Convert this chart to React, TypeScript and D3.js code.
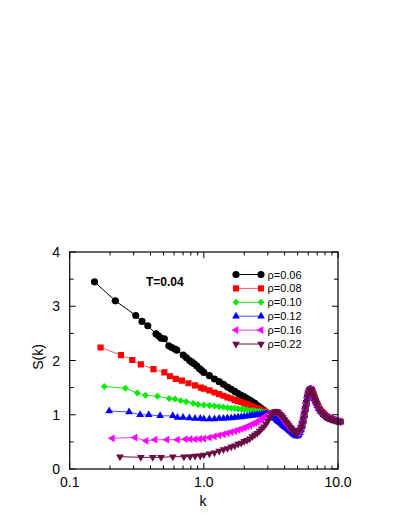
import React from "react";
import * as d3 from "d3";

// ---- data ----
const SERIES_LABELS = ["ρ=0.06", "ρ=0.08", "ρ=0.10", "ρ=0.12", "ρ=0.16", "ρ=0.22"];
const TEMP_LABEL = "T=0.04";
const X_TICKS = [0.1, 1, 10];
const X_TICK_LABELS = ["0.1", "1.0", "10.0"];
const Y_TICKS = [0, 1, 2, 3, 4];

// low-k sparse points (per series)
const K_LOW_006 = [0.153, 0.219, 0.311, 0.346, 0.382, 0.44, 0.461, 0.48, 0.508, 0.548, 0.577, 0.608, 0.629, 0.702, 0.742, 0.782, 0.815, 0.847, 0.885, 0.927, 0.96];
const S_LOW_006 = [3.45, 3.1, 2.83, 2.72, 2.64, 2.49, 2.45, 2.41, 2.4, 2.27, 2.24, 2.21, 2.19, 2.1, 2.05, 2.0, 1.97, 1.94, 1.9, 1.85, 1.82];
const K_LOW_008 = [0.17, 0.241, 0.293, 0.339, 0.421, 0.508, 0.56, 0.618, 0.686, 0.768, 0.86, 0.952];
const S_LOW_008 = [2.24, 2.1, 2.01, 1.93, 1.84, 1.78, 1.71, 1.66, 1.63, 1.58, 1.54, 1.5];
const K_LOW_010 = [0.181, 0.26, 0.319, 0.367, 0.451, 0.552, 0.61, 0.672, 0.738, 0.831, 0.906];
const S_LOW_010 = [1.52, 1.49, 1.4, 1.36, 1.34, 1.3, 1.29, 1.26, 1.24, 1.21, 1.19];
const K_LOW_012 = [0.197, 0.277, 0.335, 0.388, 0.472, 0.587, 0.636, 0.7, 0.78, 0.86, 0.94];
const S_LOW_012 = [1.07, 1.05, 1.0, 1.0, 0.98, 0.98, 0.95, 0.95, 0.94, 0.93, 0.93];
const K_LOW_016 = [0.208, 0.307, 0.371, 0.433, 0.53, 0.636, 0.73, 0.79, 0.86, 0.93];
const S_LOW_016 = [0.566, 0.58, 0.52, 0.54, 0.54, 0.54, 0.55, 0.55, 0.55, 0.555];
const K_LOW_022 = [0.237, 0.339, 0.416, 0.48, 0.587, 0.71, 0.79, 0.86, 0.94];
const S_LOW_022 = [0.227, 0.215, 0.215, 0.215, 0.227, 0.227, 0.23, 0.24, 0.245];

// dense k points (k >= 1)
const K_HI = [
  1.0, 1.1, 1.2, 1.3, 1.4, 1.5, 1.6, 1.7, 1.8, 1.9,
  2.0, 2.1, 2.2, 2.3, 2.4, 2.5, 2.6, 2.7, 2.8, 2.9,
  3.0, 3.1, 3.2, 3.3, 3.4, 3.5, 3.6, 3.7, 3.8, 3.9,
  4.0, 4.1, 4.2, 4.3, 4.4, 4.5, 4.6, 4.7, 4.8, 4.9,
  5.0, 5.1, 5.2, 5.3, 5.4, 5.5, 5.6, 5.7, 5.8, 5.9,
  6.0, 6.1, 6.2, 6.3, 6.4, 6.5, 6.6, 6.7, 6.8, 6.9, 7.0,
  7.2, 7.4, 7.6, 7.8, 8.0, 8.2, 8.4, 8.6, 8.8, 9.0, 9.35, 9.7, 10.05, 10.4,
];
const S_HI_006 = [
  1.78, 1.72, 1.66, 1.61, 1.56, 1.51, 1.47, 1.43, 1.39, 1.36, 1.33, 1.3, 1.27, 1.24, 1.21, 1.17, 1.14, 1.11, 1.08, 1.05,
  1.02, 1.0, 0.98, 0.96, 0.94, 0.92, 0.89, 0.87, 0.85, 0.82, 0.8, 0.78, 0.76, 0.74, 0.72, 0.7, 0.68, 0.66, 0.64, 0.63,
  0.63, 0.65, 0.69, 0.74, 0.81, 0.89, 0.99, 1.1, 1.21, 1.31, 1.39, 1.44, 1.47, 1.47, 1.45, 1.4, 1.35, 1.3, 1.26, 1.22, 1.19,
  1.13, 1.08, 1.05, 1.02, 0.99, 0.97, 0.95, 0.94, 0.93, 0.92, 0.905, 0.89, 0.88, 0.875,
];
const S_HI_008 = [
  1.48, 1.45, 1.41, 1.38, 1.35, 1.32, 1.3, 1.27, 1.25, 1.23, 1.21, 1.19, 1.17, 1.15, 1.13, 1.12, 1.1, 1.08, 1.07, 1.05,
  1.03, 1.0, 0.98, 0.96, 0.94, 0.91, 0.89, 0.87, 0.84, 0.82, 0.8, 0.78, 0.75, 0.73, 0.71, 0.69, 0.67, 0.65, 0.64, 0.63,
  0.63, 0.65, 0.69, 0.74, 0.81, 0.89, 0.99, 1.1, 1.21, 1.31, 1.39, 1.44, 1.47, 1.47, 1.45, 1.4, 1.35, 1.3, 1.26, 1.22, 1.19,
  1.13, 1.08, 1.05, 1.02, 0.99, 0.97, 0.95, 0.94, 0.93, 0.92, 0.905, 0.89, 0.88, 0.875,
];
const S_HI_010 = [
  1.18, 1.17, 1.16, 1.15, 1.14, 1.13, 1.12, 1.12, 1.11, 1.1, 1.1, 1.09, 1.08, 1.08, 1.07, 1.06, 1.06, 1.05, 1.04, 1.04,
  1.03, 1.0, 0.98, 0.96, 0.94, 0.91, 0.89, 0.86, 0.84, 0.82, 0.79, 0.77, 0.75, 0.73, 0.71, 0.69, 0.67, 0.65, 0.64, 0.63,
  0.63, 0.65, 0.68, 0.74, 0.8, 0.89, 0.99, 1.1, 1.21, 1.31, 1.39, 1.45, 1.47, 1.47, 1.45, 1.4, 1.35, 1.3, 1.26, 1.22, 1.18,
  1.12, 1.08, 1.04, 1.01, 0.99, 0.97, 0.95, 0.94, 0.93, 0.92, 0.9, 0.89, 0.88, 0.87,
];
const S_HI_012 = [
  0.92, 0.92, 0.92, 0.93, 0.93, 0.94, 0.94, 0.95, 0.96, 0.96, 0.97, 0.97, 0.98, 0.99, 0.99, 1.0, 1.0, 1.01, 1.01, 1.02,
  1.01, 0.99, 0.97, 0.95, 0.93, 0.9, 0.88, 0.85, 0.83, 0.8, 0.78, 0.76, 0.74, 0.72, 0.7, 0.68, 0.66, 0.64, 0.62, 0.61,
  0.61, 0.63, 0.67, 0.72, 0.79, 0.88, 0.98, 1.09, 1.2, 1.3, 1.38, 1.44, 1.47, 1.47, 1.44, 1.39, 1.34, 1.29, 1.25, 1.21, 1.17,
  1.11, 1.07, 1.03, 1.0, 0.98, 0.96, 0.94, 0.93, 0.92, 0.91, 0.895, 0.885, 0.875, 0.865,
];
const S_HI_016 = [
  0.56, 0.58, 0.6, 0.62, 0.64, 0.66, 0.68, 0.7, 0.72, 0.74, 0.76, 0.78, 0.8, 0.83, 0.85, 0.87, 0.9, 0.92, 0.95, 0.98,
  1.0, 1.02, 1.04, 1.05, 1.05, 1.04, 1.02, 0.99, 0.96, 0.93, 0.89, 0.85, 0.82, 0.79, 0.76, 0.73, 0.71, 0.69, 0.67, 0.66,
  0.66, 0.68, 0.71, 0.76, 0.83, 0.91, 1.01, 1.11, 1.22, 1.32, 1.4, 1.45, 1.47, 1.47, 1.44, 1.39, 1.34, 1.29, 1.25, 1.21, 1.17,
  1.11, 1.06, 1.03, 1.0, 0.98, 0.96, 0.94, 0.93, 0.92, 0.91, 0.9, 0.89, 0.88, 0.87,
];
const S_HI_022 = [
  0.26, 0.28, 0.3, 0.33, 0.36, 0.38, 0.41, 0.43, 0.46, 0.48, 0.51, 0.53, 0.56, 0.6, 0.63, 0.66, 0.7, 0.74, 0.78, 0.83,
  0.88, 0.95, 1.01, 1.04, 1.06, 1.06, 1.04, 1.01, 0.98, 0.95, 0.91, 0.87, 0.84, 0.8, 0.77, 0.74, 0.72, 0.7, 0.68, 0.67,
  0.67, 0.69, 0.72, 0.77, 0.84, 0.92, 1.02, 1.12, 1.23, 1.33, 1.4, 1.45, 1.47, 1.47, 1.44, 1.39, 1.34, 1.29, 1.25, 1.21, 1.17,
  1.11, 1.06, 1.03, 1.0, 0.98, 0.96, 0.94, 0.93, 0.92, 0.91, 0.9, 0.89, 0.88, 0.87,
];

const K_LOW = [K_LOW_006, K_LOW_008, K_LOW_010, K_LOW_012, K_LOW_016, K_LOW_022];
const S_LOW = [S_LOW_006, S_LOW_008, S_LOW_010, S_LOW_012, S_LOW_016, S_LOW_022];
const S_HI = [S_HI_006, S_HI_008, S_HI_010, S_HI_012, S_HI_016, S_HI_022];

// ---- styles ----
const MARKER_COLORS = ["#000000", "#ff0000", "#00ee00", "#0000ff", "#ff00ff", "#6a0d45"];
const LINE_COLORS = ["#000000", "#ff5a5a", "#22dd22", "#4a4aff", "#ff33ff", "#6a0d45"];
const SHAPES = ["circle", "square", "diamond", "triUp", "triLeft", "triDown"];

const FONT = "'Liberation Sans', Arial, Helvetica, sans-serif";

const M = { left: 69.7, right: 338, top: 252, bottom: 469 };

function Marker({ shape, x, y, color }: { shape: string; x: number; y: number; color: string }) {
  let path = "";
  let rot = 0;
  if (shape === "circle") path = d3.symbol(d3.symbolCircle, 40)() as string;
  else if (shape === "square") path = d3.symbol(d3.symbolSquare, 38)() as string;
  else if (shape === "diamond") {
    path = d3.symbol(d3.symbolSquare, 24)() as string;
    rot = 45;
  } else {
    path = d3.symbol(d3.symbolTriangle, 26)() as string;
    rot = shape === "triUp" ? 0 : shape === "triLeft" ? -90 : 180;
  }
  return <path d={path} transform={`translate(${x},${y}) rotate(${rot})`} fill={color} />;
}

export default function App() {
  const x = d3.scaleLog().domain([0.1, 10]).range([M.left, M.right]);
  const y = d3.scaleLinear().domain([0, 4]).range([M.bottom, M.top]);

  const series = SERIES_LABELS.map((label, i) => {
    const pts: [number, number][] = [];
    K_LOW[i].forEach((k, j) => pts.push([k, S_LOW[i][j]]));
    K_HI.forEach((k, j) => pts.push([k, S_HI[i][j]]));
    return { label, pts, i };
  });

  const line = d3
    .line<[number, number]>()
    .x((d) => x(d[0]))
    .y((d) => y(d[1]));

  const minorX: number[] = [];
  [0.1, 1].forEach((dec) => {
    for (let m = 2; m <= 9; m++) minorX.push(dec * m);
  });
  const minorY = [0.5, 1.5, 2.5, 3.5];

  const legendX0 = 236;
  const legendX1 = 261;
  const legendY0 = 274.5;
  const legendDy = 13.9;

  return (
    <svg
      width={408}
      height={528}
      style={{ position: "absolute", left: 0, top: 0, background: "#fff" }}
      fontFamily={FONT}
    >
      <defs>
        <clipPath id="plotclip">
          <rect x={M.left} y={M.top - 10} width={M.right - M.left + 6} height={M.bottom - M.top + 10} />
        </clipPath>
      </defs>

      {/* data */}
      <g clipPath="url(#plotclip)">
        {series.map((s) => (
          <g key={s.label}>
            <path d={line(s.pts) as string} fill="none" stroke={LINE_COLORS[s.i]} strokeWidth={1} />
            {s.pts.map((p, j) => (
              <Marker key={j} shape={SHAPES[s.i]} x={x(p[0])} y={y(p[1])} color={MARKER_COLORS[s.i]} />
            ))}
          </g>
        ))}
      </g>

      {/* frame */}
      <rect
        x={M.left}
        y={M.top}
        width={M.right - M.left}
        height={M.bottom - M.top}
        fill="none"
        stroke="#000"
        strokeWidth={1.2}
      />

      {/* x ticks */}
      {X_TICKS.map((t) => (
        <g key={"xt" + t}>
          <line x1={x(t)} x2={x(t)} y1={M.bottom} y2={M.bottom - 6} stroke="#000" strokeWidth={1} />
          <line x1={x(t)} x2={x(t)} y1={M.top} y2={M.top + 6} stroke="#000" strokeWidth={1} />
        </g>
      ))}
      {minorX.map((t) => (
        <g key={"xm" + t}>
          <line x1={x(t)} x2={x(t)} y1={M.bottom} y2={M.bottom - 3.5} stroke="#000" strokeWidth={1} />
          <line x1={x(t)} x2={x(t)} y1={M.top} y2={M.top + 3.5} stroke="#000" strokeWidth={1} />
        </g>
      ))}
      {X_TICKS.map((t, i) => (
        <text key={"xl" + t} x={x(t)} y={487} textAnchor="middle" fontSize={14}>
          {X_TICK_LABELS[i]}
        </text>
      ))}

      {/* y ticks */}
      {Y_TICKS.map((t) => (
        <g key={"yt" + t}>
          <line x1={M.left} x2={M.left + 6} y1={y(t)} y2={y(t)} stroke="#000" strokeWidth={1} />
          <line x1={M.right} x2={M.right - 6} y1={y(t)} y2={y(t)} stroke="#000" strokeWidth={1} />
        </g>
      ))}
      {minorY.map((t) => (
        <g key={"ym" + t}>
          <line x1={M.left} x2={M.left + 4} y1={y(t)} y2={y(t)} stroke="#000" strokeWidth={1} />
          <line x1={M.right} x2={M.right - 4} y1={y(t)} y2={y(t)} stroke="#000" strokeWidth={1} />
        </g>
      ))}
      {Y_TICKS.map((t) => (
        <text key={"yl" + t} x={60} y={y(t) + 5} textAnchor="end" fontSize={14}>
          {t}
        </text>
      ))}

      {/* axis labels */}
      <text x={203} y={506} textAnchor="middle" fontSize={14}>
        k
      </text>
      <text transform={`translate(43,${357}) rotate(-90)`} textAnchor="middle" fontSize={14}>
        S(k)
      </text>

      {/* temperature label */}
      <text x={146} y={286} fontSize={12} fontWeight="bold">
        {TEMP_LABEL}
      </text>

      {/* legend */}
      {series.map((s) => {
        const ly = legendY0 + s.i * legendDy;
        return (
          <g key={"lg" + s.label}>
            <line x1={legendX0} x2={legendX1} y1={ly} y2={ly} stroke={LINE_COLORS[s.i]} strokeWidth={1} />
            <Marker shape={SHAPES[s.i]} x={legendX0} y={ly} color={MARKER_COLORS[s.i]} />
            <Marker shape={SHAPES[s.i]} x={legendX1} y={ly} color={MARKER_COLORS[s.i]} />
            <text x={267.5} y={ly + 4} fontSize={11}>
              {s.label}
            </text>
          </g>
        );
      })}
    </svg>
  );
}
